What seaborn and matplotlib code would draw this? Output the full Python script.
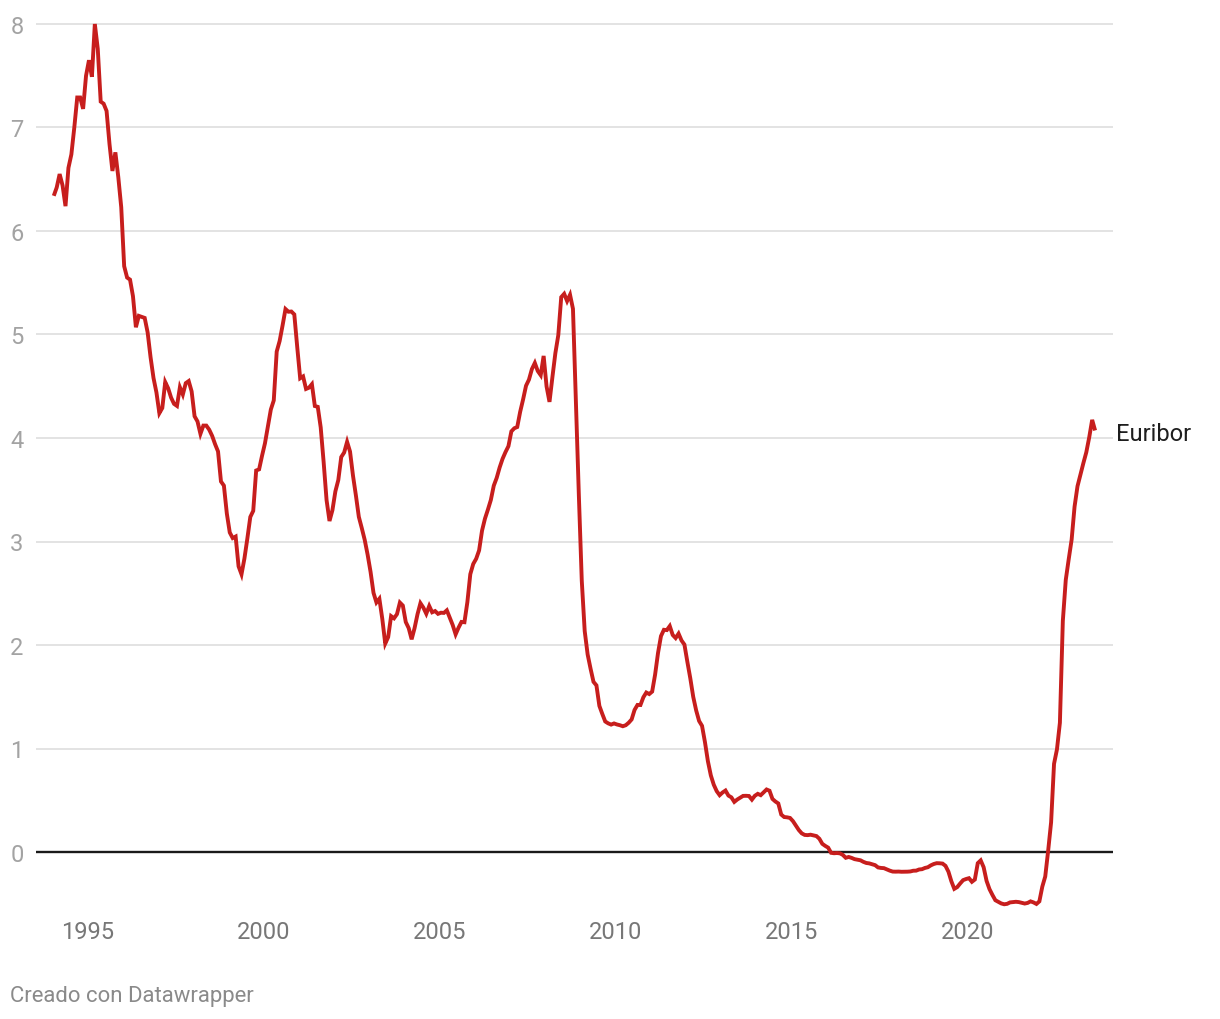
import numpy as np
import pandas as pd
import matplotlib
matplotlib.use("Agg")
import matplotlib.pyplot as plt
import seaborn as sns

# ---- data (monthly averages, %) ----
start_month = "1994-01"
rates_1994_1998 = [
    6.34, 6.42, 6.55, 6.44, 6.24, 6.61, 6.74, 7.00, 7.29, 7.29, 7.18, 7.50,
    7.65, 7.49, 8.00, 7.76, 7.25, 7.23, 7.16, 6.84, 6.58, 6.76, 6.52, 6.23,
    5.66, 5.55, 5.53, 5.37, 5.07, 5.18, 5.17, 5.16, 5.02, 4.78, 4.58, 4.44,
    4.24, 4.29, 4.54, 4.48, 4.39, 4.33, 4.31, 4.49, 4.42, 4.53, 4.55, 4.45,
    4.21, 4.16, 4.04, 4.12, 4.12, 4.08, 4.02, 3.94, 3.87, 3.58, 3.54, 3.27,
]
rates_1999_2003 = [
    3.087, 3.033, 3.048, 2.760, 2.683, 2.836, 3.030, 3.237, 3.296, 3.686, 3.697, 3.828,
    3.949, 4.109, 4.275, 4.363, 4.835, 4.937, 5.087, 5.246, 5.220, 5.222, 5.194, 4.878,
    4.577, 4.595, 4.474, 4.486, 4.520, 4.309, 4.301, 4.103, 3.768, 3.400, 3.198, 3.303,
    3.484, 3.594, 3.816, 3.860, 3.963, 3.869, 3.638, 3.445, 3.238, 3.130, 3.016, 2.872,
    2.706, 2.504, 2.411, 2.447, 2.252, 2.014, 2.076, 2.279, 2.258, 2.298, 2.410, 2.381,
]
rates_2004_2008 = [
    2.222, 2.163, 2.055, 2.163, 2.297, 2.404, 2.361, 2.302, 2.377, 2.316, 2.328, 2.301,
    2.312, 2.310, 2.335, 2.265, 2.193, 2.103, 2.168, 2.223, 2.220, 2.414, 2.684, 2.783,
    2.833, 2.914, 3.105, 3.221, 3.308, 3.401, 3.539, 3.615, 3.715, 3.799, 3.864, 3.921,
    4.064, 4.094, 4.106, 4.253, 4.373, 4.505, 4.564, 4.666, 4.725, 4.647, 4.607, 4.793,
    4.498, 4.349, 4.590, 4.820, 4.994, 5.361, 5.393, 5.323, 5.384, 5.248, 4.350, 3.452,
]
rates_2009_2013 = [
    2.622, 2.135, 1.909, 1.771, 1.644, 1.610, 1.412, 1.334, 1.261, 1.243, 1.231, 1.242,
    1.232, 1.225, 1.215, 1.225, 1.249, 1.281, 1.373, 1.421, 1.420, 1.495, 1.541, 1.526,
    1.550, 1.714, 1.924, 2.086, 2.147, 2.144, 2.183, 2.097, 2.067, 2.110, 2.044, 2.004,
    1.837, 1.678, 1.499, 1.368, 1.266, 1.219, 1.061, 0.877, 0.740, 0.650, 0.588, 0.549,
    0.575, 0.594, 0.545, 0.528, 0.484, 0.507, 0.525, 0.542, 0.543, 0.541, 0.506, 0.543,
]
rates_2014_2018 = [
    0.562, 0.549, 0.577, 0.604, 0.592, 0.513, 0.488, 0.469, 0.362, 0.338, 0.335, 0.329,
    0.298, 0.255, 0.212, 0.180, 0.165, 0.163, 0.167, 0.161, 0.154, 0.128, 0.079, 0.059,
    0.042, -0.008, -0.012, -0.010, -0.013, -0.028, -0.056, -0.048, -0.057, -0.069, -0.074, -0.080,
    -0.095, -0.106, -0.110, -0.119, -0.127, -0.149, -0.154, -0.156, -0.168, -0.180, -0.189, -0.190,
    -0.189, -0.191, -0.191, -0.190, -0.188, -0.181, -0.180, -0.169, -0.166, -0.154, -0.147, -0.129,
]
rates_2019_2023 = [
    -0.116, -0.108, -0.109, -0.112, -0.134, -0.190, -0.283, -0.356, -0.339, -0.304, -0.272, -0.261,
    -0.253, -0.288, -0.266, -0.108, -0.081, -0.147, -0.279, -0.359, -0.415, -0.466, -0.481, -0.497,
    -0.505, -0.501, -0.487, -0.484, -0.481, -0.484, -0.491, -0.498, -0.492, -0.477, -0.487, -0.502,
    -0.477, -0.335, -0.237, 0.013, 0.287, 0.852, 0.992, 1.249, 2.233, 2.629, 2.828, 3.018,
    3.337, 3.534, 3.647, 3.757, 3.862, 4.007, 4.175, 4.073,
]
series_name = "Euribor"
year_ticks = [1995, 2000, 2005, 2010, 2015, 2020]
y_ticks = [0, 1, 2, 3, 4, 5, 6, 7, 8]
credit = "Creado con Datawrapper"

values = (rates_1994_1998 + rates_1999_2003 + rates_2004_2008 +
          rates_2009_2013 + rates_2014_2018 + rates_2019_2023)
dates = pd.period_range(start=start_month, periods=len(values), freq="M")
t = np.array([d.year + (d.month - 0.5) / 12 for d in dates])
df = pd.DataFrame({"t": t, "value": values})

# ---- figure ----
W, H = 1220, 1020
sns.set_theme(style="white")
plt.rcParams["font.family"] = ["Roboto", "DejaVu Sans"]

fig = plt.figure(figsize=(W / 100, H / 100), dpi=100)
# pixel geometry
x_left_px, x_right_px = 36, 1113
px_per_year = 35.2
x0_px = 87.5  # pixel of 1995.0
ypx0, px_per_unit = 853, 103.5
ylo, yhi = -0.62, 8.12
top_px = ypx0 - yhi * px_per_unit
bot_px = ypx0 - ylo * px_per_unit
ax = fig.add_axes([x_left_px / W, 1 - bot_px / H,
                   (x_right_px - x_left_px) / W, (bot_px - top_px) / H])

xlo = 1995 + (x_left_px - x0_px) / px_per_year
xhi = 1995 + (x_right_px - x0_px) / px_per_year

ax.set_yticks(y_ticks)
ax.yaxis.grid(True, color="#e3e3e3", linewidth=1.4)
ax.xaxis.grid(False)
ax.set_axisbelow(True)
ax.axhline(0, color="#1a1a1a", linewidth=1.7, zorder=2)

sns.lineplot(data=df, x="t", y="value", color="#c71e1d", linewidth=2.8,
             ax=ax, zorder=3)
for ln in ax.lines:
    if ln.get_color() == "#c71e1d":
        ln.set_solid_joinstyle("miter")
        ln.set_solid_capstyle("butt")

ax.set_xlim(xlo, xhi)
ax.set_ylim(ylo, yhi)
ax.set_xticks(year_ticks)
ax.set_xticklabels([str(y) for y in year_ticks])
ax.set_yticklabels([str(v) for v in y_ticks])
ax.tick_params(axis="y", length=0, pad=9, labelsize=17, labelcolor="#a3a3a3")
ax.tick_params(axis="x", length=0, pad=2.5, labelsize=17, labelcolor="#777777")
ax.set_xlabel("")
ax.set_ylabel("")
for s in ax.spines.values():
    s.set_visible(False)
ax.patch.set_alpha(0)

ax.annotate(series_name, xy=(df["t"].iloc[-1], df["value"].iloc[-1]),
            xytext=(15, -2.5), textcoords="offset points",
            ha="left", va="center", fontsize=17, color="#1e1e1e",
            annotation_clip=False)

fig.text(10 / W, 1 - 997 / H, credit, ha="left", va="center",
         fontsize=15.9, color="#8a8a8a")

fig.savefig("out.png", dpi=100)
